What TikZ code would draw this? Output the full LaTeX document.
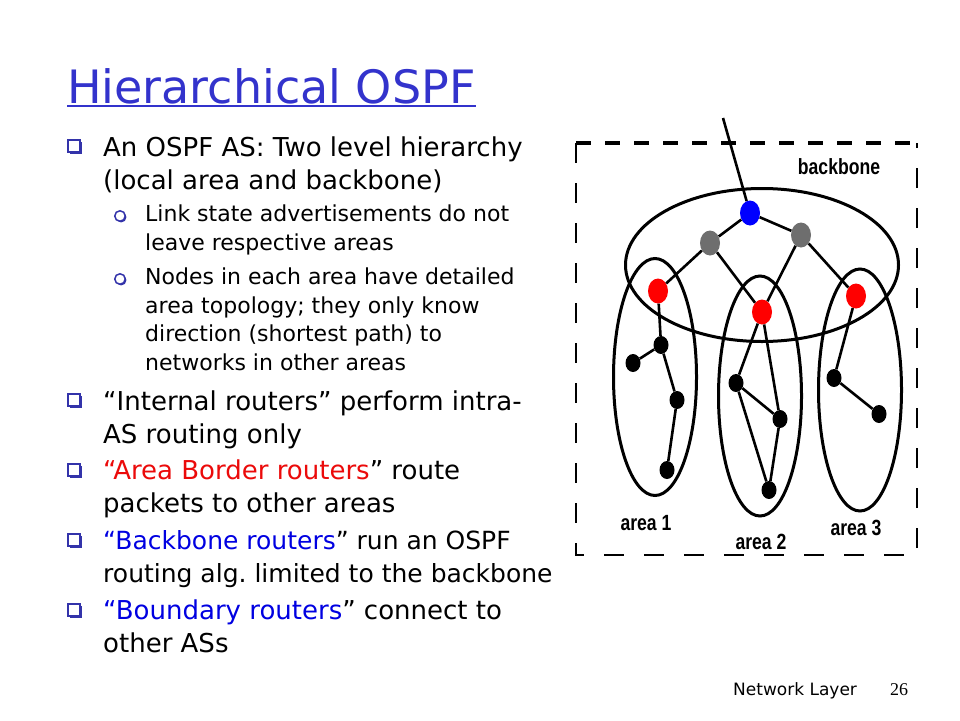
\documentclass[tikz,border=0pt]{standalone}
\usepackage{fontspec}
\setmainfont{DejaVu Sans}
\newfontfamily\tagfont{Liberation Sans}
\newfontfamily\pagefont{Liberation Serif}
\usetikzlibrary{shapes.geometric,shadows}
\definecolor{titleblue}{RGB}{51,51,204}
\definecolor{bulletblue}{RGB}{51,51,170}
\definecolor{abrred}{RGB}{235,10,10}
\definecolor{bbblue}{RGB}{0,0,225}
\definecolor{bbgray}{RGB}{110,110,110}

\begin{document}
\begin{tikzpicture}[x=1pt,y=-1pt,every node/.style={inner sep=0pt}]
  \tikzstyle{point}=[anchor=base west,align=left,font=\fontsize{26}{33}\selectfont]
  \tikzstyle{subpoint}=[anchor=base west,align=left,font=\fontsize{22}{28.5}\selectfont]
  \tikzstyle{box}=[rectangle,draw=bulletblue,fill=white,line width=1.6pt,minimum width=11.5,minimum height=12.5,
    drop shadow={shadow xshift=2pt,shadow yshift=-2pt,opacity=1,fill=bulletblue}]
  \tikzstyle{ring}=[circle,draw=bulletblue,fill=white,line width=1.5pt,minimum size=10.5,
    drop shadow={shadow xshift=1.2pt,shadow yshift=-1.2pt,opacity=1,fill=bulletblue}]
  \tikzstyle{oval}=[ellipse,draw,line width=3pt]
  \tikzstyle{router}=[ellipse,fill=black,minimum width=15,minimum height=18]
  \tikzstyle{core}=[ellipse,minimum width=20,minimum height=25]
  \tikzstyle{link}=[draw,line width=2.6pt]
  \tikzstyle{tag}=[font=\tagfont\bfseries\fontsize{22}{24}\selectfont,transform shape,xscale=0.8]
  \useasboundingbox (0,0) rectangle (960,720);

  % title
  \node[anchor=base west,font=\fontsize{46}{50}\selectfont,text=titleblue] (title) at (67,103) {Hierarchical OSPF};
  \draw[titleblue,line width=2pt] ([yshift=-3pt]title.base west) -- ([yshift=-3pt]title.base east);

  % bullets (anchored at the last line)
  \node[box]  (b1) at (74,146) {};
  \node[point] (p1) at (103,189) {An OSPF AS: Two level hierarchy\\(local area and backbone)};
  \node[ring] (c1) at (120,216) {};
  \node[subpoint] (s1) at (145,250) {Link state advertisements do not\\leave respective areas};
  \node[ring] (c2) at (120,279) {};
  \node[subpoint] (s2) at (145,370) {Nodes in each area have detailed\\area topology; they only know\\direction (shortest path) to\\networks in other areas};
  \node[box]  (b2) at (74,400) {};
  \node[point] (p2) at (103,443) {“Internal routers” perform intra-\\AS routing only};
  \node[box]  (b3) at (74,470) {};
  \node[point] (p3) at (103,512) {\textcolor{abrred}{“Area Border routers}” route\\packets to other areas};
  \node[box]  (b4) at (74,540) {};
  \node[point,font=\fontsize{25}{33}\selectfont] (p4) at (103,582) {\textcolor{bbblue}{“Backbone routers}” run an OSPF\\routing alg.\ limited to the backbone};
  \node[box]  (b5) at (74,610) {};
  \node[point] (p5) at (103,652) {\textcolor{bbblue}{“Boundary routers}” connect to\\other ASs};

  % footer
  \node[anchor=base west,font=\fontsize{17}{20}\selectfont] (foot) at (733,695) {Network Layer};
  \node[anchor=base west,font=\pagefont\fontsize{18}{20}\selectfont] (page) at (890,695) {26};

  % AS frame
  \draw[line width=4pt,dash pattern=on 15pt off 14pt] (576,143) -- (917,143);
  \draw[line width=2pt,dash pattern=on 20pt off 20pt] (576,143) -- (576,555) -- (917,555) -- (917,143);

  % areas
  \node[oval,minimum width=273,minimum height=153] (backbone) at (762,265) {};
  \node[oval,minimum width=83,minimum height=237] (area1) at (655,377) {};
  \node[oval,minimum width=83,minimum height=240] (area2) at (760,396) {};
  \node[oval,minimum width=83,minimum height=242] (area3) at (860,390) {};

  % routers
  \coordinate (ext) at (723,118);
  \node[core,fill=blue]   (boundary) at (750,213) {};
  \node[core,fill=bbgray] (bbl) at (710,243) {};
  \node[core,fill=bbgray] (bbr) at (801,235) {};
  \node[core,fill=red]    (abr1) at (658,291) {};
  \node[core,fill=red]    (abr2) at (762,312) {};
  \node[core,fill=red]    (abr3) at (856,296) {};
  \node[router] (r11) at (661,345) {};
  \node[router] (r12) at (633,363) {};
  \node[router] (r13) at (677,400) {};
  \node[router] (r14) at (667,470) {};
  \node[router] (r21) at (736,383) {};
  \node[router] (r22) at (780,419) {};
  \node[router] (r23) at (769,490) {};
  \node[router] (r31) at (834,378) {};
  \node[router] (r32) at (879,414) {};

  \path[link] (ext) edge (boundary)
        (boundary) edge (bbl)
                   edge (bbr)
        (bbl) edge (abr1)
              edge (abr2)
        (bbr) edge (abr2)
              edge (abr3)
        (abr1) edge (r11)
        (r11) edge (r12)
              edge (r13)
        (r13) edge (r14)
        (abr2) edge (r21)
               edge (r22)
        (r21) edge (r22)
              edge (r23)
        (r22) edge (r23)
        (abr3) edge (r31)
        (r31) edge (r32);

  % labels
  \node[tag] (bbtag) at (839,167) {backbone};
  \node[tag] (tag1) at (646,523) {area 1};
  \node[tag] (tag2) at (761,542) {area 2};
  \node[tag] (tag3) at (856,528) {area 3};
\end{tikzpicture}
\end{document}
